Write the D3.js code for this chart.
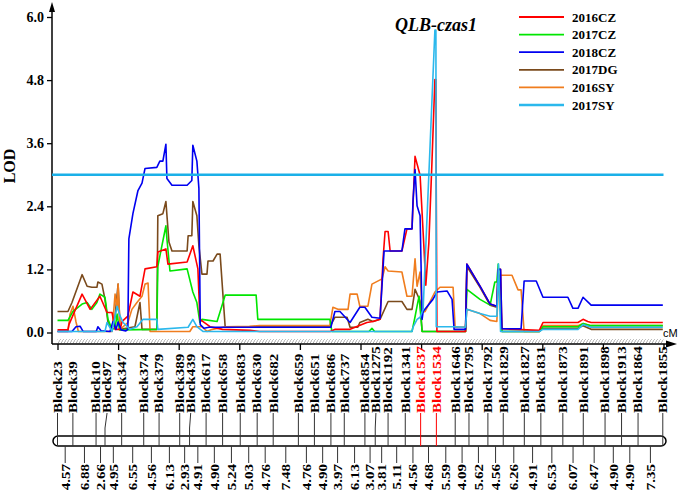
<!DOCTYPE html>
<html>
<head>
<meta charset="utf-8">
<script src="https://cdn.jsdelivr.net/npm/d3@7"></script>
<style>
  body { margin: 0; background: #fff; }
  svg { display: block; }
</style>
</head>
<body>
<div id="chart"></div>
<script>
// ---- data ----
var blockNames = ["Block23", "Block39", "Block10", "Block97", "Block347", "Block374", "Block379", "Block389",
  "Block439", "Block617", "Block658", "Block683", "Block630", "Block682", "Block659", "Block651", "Block686",
  "Block737", "Block854", "Block1275", "Block1192", "Block1341", "Block1537", "Block1534", "Block1646",
  "Block1795", "Block1792", "Block1829", "Block1827", "Block1831", "Block1873", "Block1891", "Block1898",
  "Block1913", "Block1864", "Block1855"];
var intervals = [4.57, 6.88, 2.66, 4.95, 6.55, 4.56, 6.13, 2.93, 4.91, 4.90, 5.24, 5.03, 4.76, 7.48, 4.76,
  4.90, 3.97, 6.13, 3.07, 3.81, 5.11, 4.56, 4.68, 5.59, 4.09, 5.62, 4.56, 6.26, 4.91, 6.53, 6.07, 6.47,
  4.90, 4.90, 7.35];
var highlightBlocks = ["Block1537", "Block1534"];

var seriesNames = ["2016CZ", "2017CZ", "2018CZ", "2017DG", "2016SY", "2017SY"];
var yTicks = [0, 1.2, 2.4, 3.6, 4.8, 6.0];
var threshold = 3.0;
var qtlName = "QLB-czas1";

// [cM, LOD]
var s2016CZ = [[0,0.05],[3.1,0.05],[3.4,0.15],[7.3,0.73],[9.7,0.44],[12.6,0.69],[14.7,0.38],[16.2,0.38],
  [17.1,0.06],[18.6,0.06],[19.2,0.21],[20.9,0.31],[22.4,0.77],[24.5,0.69],[26.0,1.21],[29.5,1.25],[29.8,1.53],
  [32.2,1.59],[32.8,1.3],[38.5,1.34],[40.2,1.65],[41.7,1.21],[42.3,0.25],[45.3,0.11],[49,0.06],[57.2,0.04],
  [60,0.02],[81,0.02],[82.5,0.06],[86.9,0.06],[91.9,0.19],[93.7,0.21],[95.8,0.25],[96.7,1.4],[97.3,1.92],
  [98.2,1.92],[98.8,1.55],[102.3,1.55],[103.8,1.97],[105.3,1.97],[106.2,3.35],[107.7,2.99],[108.9,1.55],
  [109.4,0.9],[110.3,1.7],[111.2,3.2],[112.1,4.81],[112.4,4.81],[112.5,2.74],[112.7,0.02],[121.2,0.02],
  [121.6,1.3],[125.5,0.88],[128.5,0.54],[130.5,0.5],[130.9,1.2],[131.6,1.2],[132.0,0.07],[143.1,0.04],
  [144.2,0.19],[154.6,0.19],[156.1,0.25],[157.5,0.21],[158.5,0.19],[179.8,0.19]];
var s2017CZ = [[0,0.23],[3.1,0.23],[4.6,0.4],[7.3,0.54],[8.8,0.57],[10.2,0.44],[11.7,0.57],[12.6,0.73],
  [14.1,0.67],[15.0,0.25],[16.2,0.06],[17.1,0.08],[17.7,0.35],[18.4,0.05],[29.5,0.06],[29.8,1.26],[32.2,2.03],
  [32.5,1.78],[33.4,1.17],[38.5,1.21],[40.2,0.77],[41.4,0.57],[42.3,0.19],[42.9,0.25],[47.4,0.21],[49.8,0.71],
  [59.0,0.71],[59.5,0.25],[80.9,0.25],[81.5,0.02],[92.5,0.02],[93.4,0.08],[94.2,0.02],[105.3,0.02],
  [106.2,0.3],[106.8,0.5],[107.4,0.69],[108.3,0.02],[121.2,0.02],[121.6,0.82],[125.5,0.63],[128.5,0.52],
  [129.9,0.96],[130.5,0.96],[130.9,1.3],[132.0,0.02],[143.1,0.02],[144.2,0.11],[154.6,0.11],[156.1,0.17],
  [158.5,0.13],[179.8,0.13]];
var s2018CZ = [[0,0.02],[4.3,0.02],[5.5,0.11],[6.7,0.12],[7.6,0.02],[11.5,0.02],[12.0,0.11],[13.0,0.03],
  [15.6,0.02],[16.5,0.21],[17.4,0.06],[18.0,0.2],[18.9,0.05],[20.3,0.03],[20.9,0.06],[21.2,1.78],[22.4,2.26],
  [23.9,2.7],[25.1,2.84],[26.0,3.12],[29.5,3.14],[30.4,3.26],[31.3,3.26],[32.2,3.58],[32.5,2.93],[34.0,2.8],
  [38.5,2.8],[39.9,2.89],[40.2,3.56],[41.4,3.26],[42.0,2.74],[42.4,0.15],[43.5,0.08],[45,0.1],[60,0.1],
  [81.2,0.1],[82.4,0.4],[83.9,0.4],[86.9,0.19],[89.8,0.48],[91.3,0.48],[93.4,0.29],[95.8,0.27],[96.4,0.9],
  [97.0,1.55],[102.3,1.55],[103.2,1.97],[105.3,1.97],[105.6,2.51],[106.2,3.1],[106.8,2.41],[107.7,2.22],
  [108.3,0.25],[108.6,0.4],[111.5,0.63],[112.7,0.77],[115.7,0.79],[117.2,0.63],[117.8,0.06],[121.2,0.06],
  [121.6,1.3],[125.5,0.88],[128.5,0.54],[130.5,0.5],[130.9,1.2],[131.6,1.2],[132.0,0.07],[137.7,0.07],
  [138.6,0.98],[142.2,0.98],[144.2,0.67],[151.6,0.67],[153.1,0.46],[154.6,0.46],[156.1,0.67],[158.5,0.52],
  [179.8,0.52]];
var s2017DG = [[0,0.4],[3.1,0.4],[4.3,0.57],[7.3,1.1],[8.8,0.88],[10.2,0.86],[11.7,0.86],[12.0,0.96],
  [13.2,0.92],[14.1,0.63],[15.0,0.19],[16.2,0.06],[17.1,0.31],[18.0,0.92],[18.6,0.06],[23.0,0.11],[24.5,0.57],
  [25.1,0.06],[29.5,0.06],[29.8,2.22],[31.3,2.26],[32.2,2.49],[33.1,1.72],[34.0,1.55],[38.5,1.55],[38.8,1.84],
  [39.9,1.84],[40.2,2.49],[41.4,2.22],[42.0,1.65],[42.9,1.11],[44.4,1.11],[44.7,1.36],[46.2,1.36],[47.4,1.49],
  [48.3,1.49],[49.8,0.11],[80.9,0.11],[82.4,0.29],[86.0,0.29],[86.9,0.1],[89.2,0.1],[89.8,0.19],[92.2,0.25],
  [93.7,0.21],[95.8,0.25],[98.2,0.59],[102.3,0.59],[103.8,0.44],[105.3,0.44],[106.2,0.82],[107.1,0.69],
  [107.7,0.6],[108.3,0.02],[121.2,0.02],[121.6,1.26],[125.5,0.86],[128.5,0.52],[130.5,0.48],[130.8,1.07],
  [131.4,1.07],[132.0,0.02],[143.1,0.02],[144.2,0.08],[154.6,0.08],[156.1,0.13],[158.5,0.06],[179.8,0.06]];
var s2016SY = [[0,0.02],[3.1,0.02],[3.7,0.34],[4.6,0.5],[5.5,0.2],[6.2,0.02],[16.2,0.02],[17.1,0.73],
  [17.7,0.44],[18.0,0.92],[18.6,0.06],[20.9,0.19],[22.1,0.44],[23.6,0.57],[25.1,0.69],[26.0,0.92],[26.9,0.94],
  [27.5,0.02],[39.3,0.02],[40.2,0.11],[42.9,0.11],[44.4,0.02],[46,0.06],[49.8,0.11],[57,0.12],[60,0.13],
  [80.9,0.13],[81.8,0.48],[83.3,0.44],[86.3,0.44],[86.9,0.73],[89.0,0.73],[89.8,0.5],[92.2,0.5],[93.4,0.92],
  [96.4,1.02],[97.3,1.25],[98.2,1.17],[102.3,1.15],[103.8,0.69],[105.3,0.69],[106.2,1.4],[106.8,0.88],
  [107.7,1.15],[108.3,0.38],[109.2,0.4],[112.1,0.77],[113.6,0.86],[117.5,0.86],[118.1,0.1],[121.2,0.11],
  [121.6,0.44],[125.5,0.36],[128.5,0.23],[130.5,0.21],[131.1,1.09],[135.0,1.09],[136.8,0.81],[137.7,0.81],
  [138.6,0.02],[143.1,0.02],[144.2,0.13],[154.6,0.13],[156.1,0.17],[158.5,0.13],[179.8,0.13]];
var s2017SY = [[0,0.02],[14.1,0.02],[14.7,0.19],[16.2,0.02],[17.7,0.5],[18.6,0.31],[19.5,0.19],[21.5,0.06],
  [23.6,0.11],[25.4,0.25],[29.5,0.25],[29.8,0.06],[38.8,0.1],[40.2,0.25],[41.4,0.11],[43.2,0.02],[105.3,0.02],
  [105.6,0.1],[106.8,0.25],[107.7,0.29],[108.6,0.44],[110.6,3.45],[112.1,5.75],[112.4,5.75],[112.5,0.11],
  [117.8,0.11],[121.2,0.1],[121.6,0.44],[125.5,0.36],[128.5,0.31],[130.5,0.31],[131.0,1.3],[131.6,0.02],
  [143.1,0.02],[144.2,0.06],[154.6,0.06],[156.1,0.15],[158.5,0.1],[179.8,0.1]];

var seriesValues = [s2016CZ, s2017CZ, s2018CZ, s2017DG, s2016SY, s2017SY];
var seriesColors = ["#ff0000", "#00e600", "#0000f0", "#7a4a1c", "#f07d1e", "#2bb8ec"];
var drawOrder = [3, 4, 1, 0, 2, 5];

// ---- layout ----
var width = 685, height = 490;
var serif = "'Liberation Serif', 'Times New Roman', serif";
var axisX = 52, axisY = 344;

var x = d3.scaleLinear().domain([0, 180]).range([57.5, 663.5]);
var y = d3.scaleLinear().domain([0, 6]).range([332.5, 17]);

var svg = d3.select("#chart").append("svg")
    .attr("width", width)
    .attr("height", height);

var defs = svg.append("defs");
defs.append("pattern")
    .attr("id", "hatch")
    .attr("patternUnits", "userSpaceOnUse")
    .attr("width", 3)
    .attr("height", 5)
  .append("path")
    .attr("d", "M0,5L3,0")
    .attr("stroke", "#8a8a8a")
    .attr("stroke-width", 0.7);

// marker hatch along the x axis
svg.append("rect")
    .attr("x", x(0))
    .attr("y", axisY - 5)
    .attr("width", x(180) - x(0))
    .attr("height", 4.5)
    .attr("fill", "url(#hatch)");

// y axis
var yAxis = svg.append("g")
    .attr("transform", "translate(" + axisX + ",0)")
    .call(d3.axisLeft(y).tickValues(yTicks).tickFormat(d3.format(".1f")).tickSize(5).tickPadding(3));
yAxis.select(".domain").remove();
yAxis.selectAll("line").attr("stroke", "#000").attr("stroke-width", 1.3);
yAxis.selectAll("text")
    .attr("font-family", serif)
    .attr("font-weight", "bold")
    .attr("font-size", "14px")
    .attr("fill", "#000");

svg.append("line")
    .attr("x1", axisX).attr("y1", axisY)
    .attr("x2", axisX).attr("y2", 6)
    .attr("stroke", "#000").attr("stroke-width", 1.5);
svg.append("path")
    .attr("d", "M" + axisX + ",2L" + (axisX - 3) + ",12L" + (axisX + 3) + ",12Z")
    .attr("fill", "#000");

svg.append("text")
    .attr("transform", "translate(15,166) rotate(-90)")
    .attr("text-anchor", "middle")
    .attr("font-family", serif)
    .attr("font-weight", "bold")
    .attr("font-size", "16px")
    .text("LOD");

// x axis
var xAxis = svg.append("g")
    .attr("transform", "translate(0," + axisY + ")")
    .call(d3.axisBottom(x).tickValues(d3.range(0, 181, 18)).tickFormat("").tickSize(6));
xAxis.select(".domain").remove();
xAxis.selectAll("line").attr("stroke", "#000").attr("stroke-width", 1.3);

svg.append("line")
    .attr("x1", axisX).attr("y1", axisY)
    .attr("x2", 670).attr("y2", axisY)
    .attr("stroke", "#000").attr("stroke-width", 1.5);
svg.append("path")
    .attr("d", "M677," + axisY + "L666," + (axisY - 3.5) + "L666," + (axisY + 3.5) + "Z")
    .attr("fill", "#000");
svg.append("text")
    .attr("x", 663)
    .attr("y", 337)
    .attr("font-family", "'Liberation Sans', Arial, sans-serif")
    .attr("font-size", "11px")
    .text("cM");

// LOD curves
var line = d3.line()
    .x(function (d) { return x(d[0]); })
    .y(function (d) { return y(d[1]); });

svg.append("g").selectAll("path")
    .data(drawOrder)
  .enter().append("path")
    .attr("d", function (i) { return line(seriesValues[i]); })
    .attr("fill", "none")
    .attr("stroke", function (i) { return seriesColors[i]; })
    .attr("stroke-width", 1.6)
    .attr("stroke-linejoin", "round");

// threshold
svg.append("line")
    .attr("x1", axisX).attr("x2", x(180))
    .attr("y1", y(threshold)).attr("y2", y(threshold))
    .attr("stroke", "#1ab0e8")
    .attr("stroke-width", 2.6);

// QTL name
svg.append("text")
    .attr("x", 436)
    .attr("y", 31)
    .attr("text-anchor", "middle")
    .attr("font-family", serif)
    .attr("font-weight", "bold")
    .attr("font-style", "italic")
    .attr("font-size", "18px")
    .text(qtlName);

// legend
var legend = svg.append("g").selectAll("g")
    .data(seriesNames)
  .enter().append("g")
    .attr("transform", function (d, i) { return "translate(519," + (17 + i * 17.6) + ")"; });
legend.append("line")
    .attr("x1", 0).attr("x2", 45)
    .attr("stroke", function (d, i) { return seriesColors[i]; })
    .attr("stroke-width", function (d, i) { return i === 5 ? 2.4 : 1.8; });
legend.append("text")
    .attr("x", 53)
    .attr("y", 4.5)
    .attr("font-family", serif)
    .attr("font-weight", "bold")
    .attr("font-size", "13px")
    .text(function (d) { return d; });

// ---- linkage map ----
var cum = [0];
intervals.forEach(function (v, i) { cum.push(cum[i] + v); });

var blocks = blockNames.map(function (name, i) {
  return { name: name, pos: x(cum[i]) };
});
var lastX = -100;
blocks.forEach(function (b) {
  b.labelX = Math.max(b.pos, lastX + 11);
  lastX = b.labelX;
});

var barTop = 436, barH = 10;
svg.append("rect")
    .attr("x", 53)
    .attr("y", barTop)
    .attr("width", 613)
    .attr("height", barH)
    .attr("rx", 5)
    .attr("ry", 5)
    .attr("fill", "#fff")
    .attr("stroke", "#000")
    .attr("stroke-width", 1.5);

var isHi = function (d) { return highlightBlocks.indexOf(d.name) >= 0; };

var blockG = svg.append("g").selectAll("g")
    .data(blocks)
  .enter().append("g");

blockG.append("path")
    .attr("d", function (d) {
      return "M" + d.labelX + ",413L" + d.pos + ",428L" + d.pos + "," + (barTop + barH);
    })
    .attr("fill", "none")
    .attr("stroke", function (d) { return isHi(d) ? "#ff0000" : "#333"; })
    .attr("stroke-width", 1);

blockG.append("text")
    .attr("transform", function (d) { return "translate(" + d.labelX + ",413) rotate(-90) scale(1,0.8)"; })
    .attr("dy", "0.36em")
    .attr("font-family", serif)
    .attr("font-weight", "bold")
    .attr("font-size", "15px")
    .attr("fill", function (d) { return isHi(d) ? "#ff0000" : "#000"; })
    .text(function (d) { return d.name; });

var intG = svg.append("g").selectAll("g")
    .data(intervals)
  .enter().append("g")
    .attr("transform", function (d, i) { return "translate(" + x((cum[i] + cum[i + 1]) / 2) + ",0)"; });

intG.append("line")
    .attr("y1", barTop + barH)
    .attr("y2", 463)
    .attr("stroke", "#333")
    .attr("stroke-width", 1);

intG.append("text")
    .attr("transform", "translate(0,464) rotate(-90) scale(1,0.8)")
    .attr("dy", "0.36em")
    .attr("text-anchor", "end")
    .attr("font-family", serif)
    .attr("font-weight", "bold")
    .attr("font-size", "15px")
    .text(function (d) { return d3.format(".2f")(d); });
</script>
</body>
</html>
